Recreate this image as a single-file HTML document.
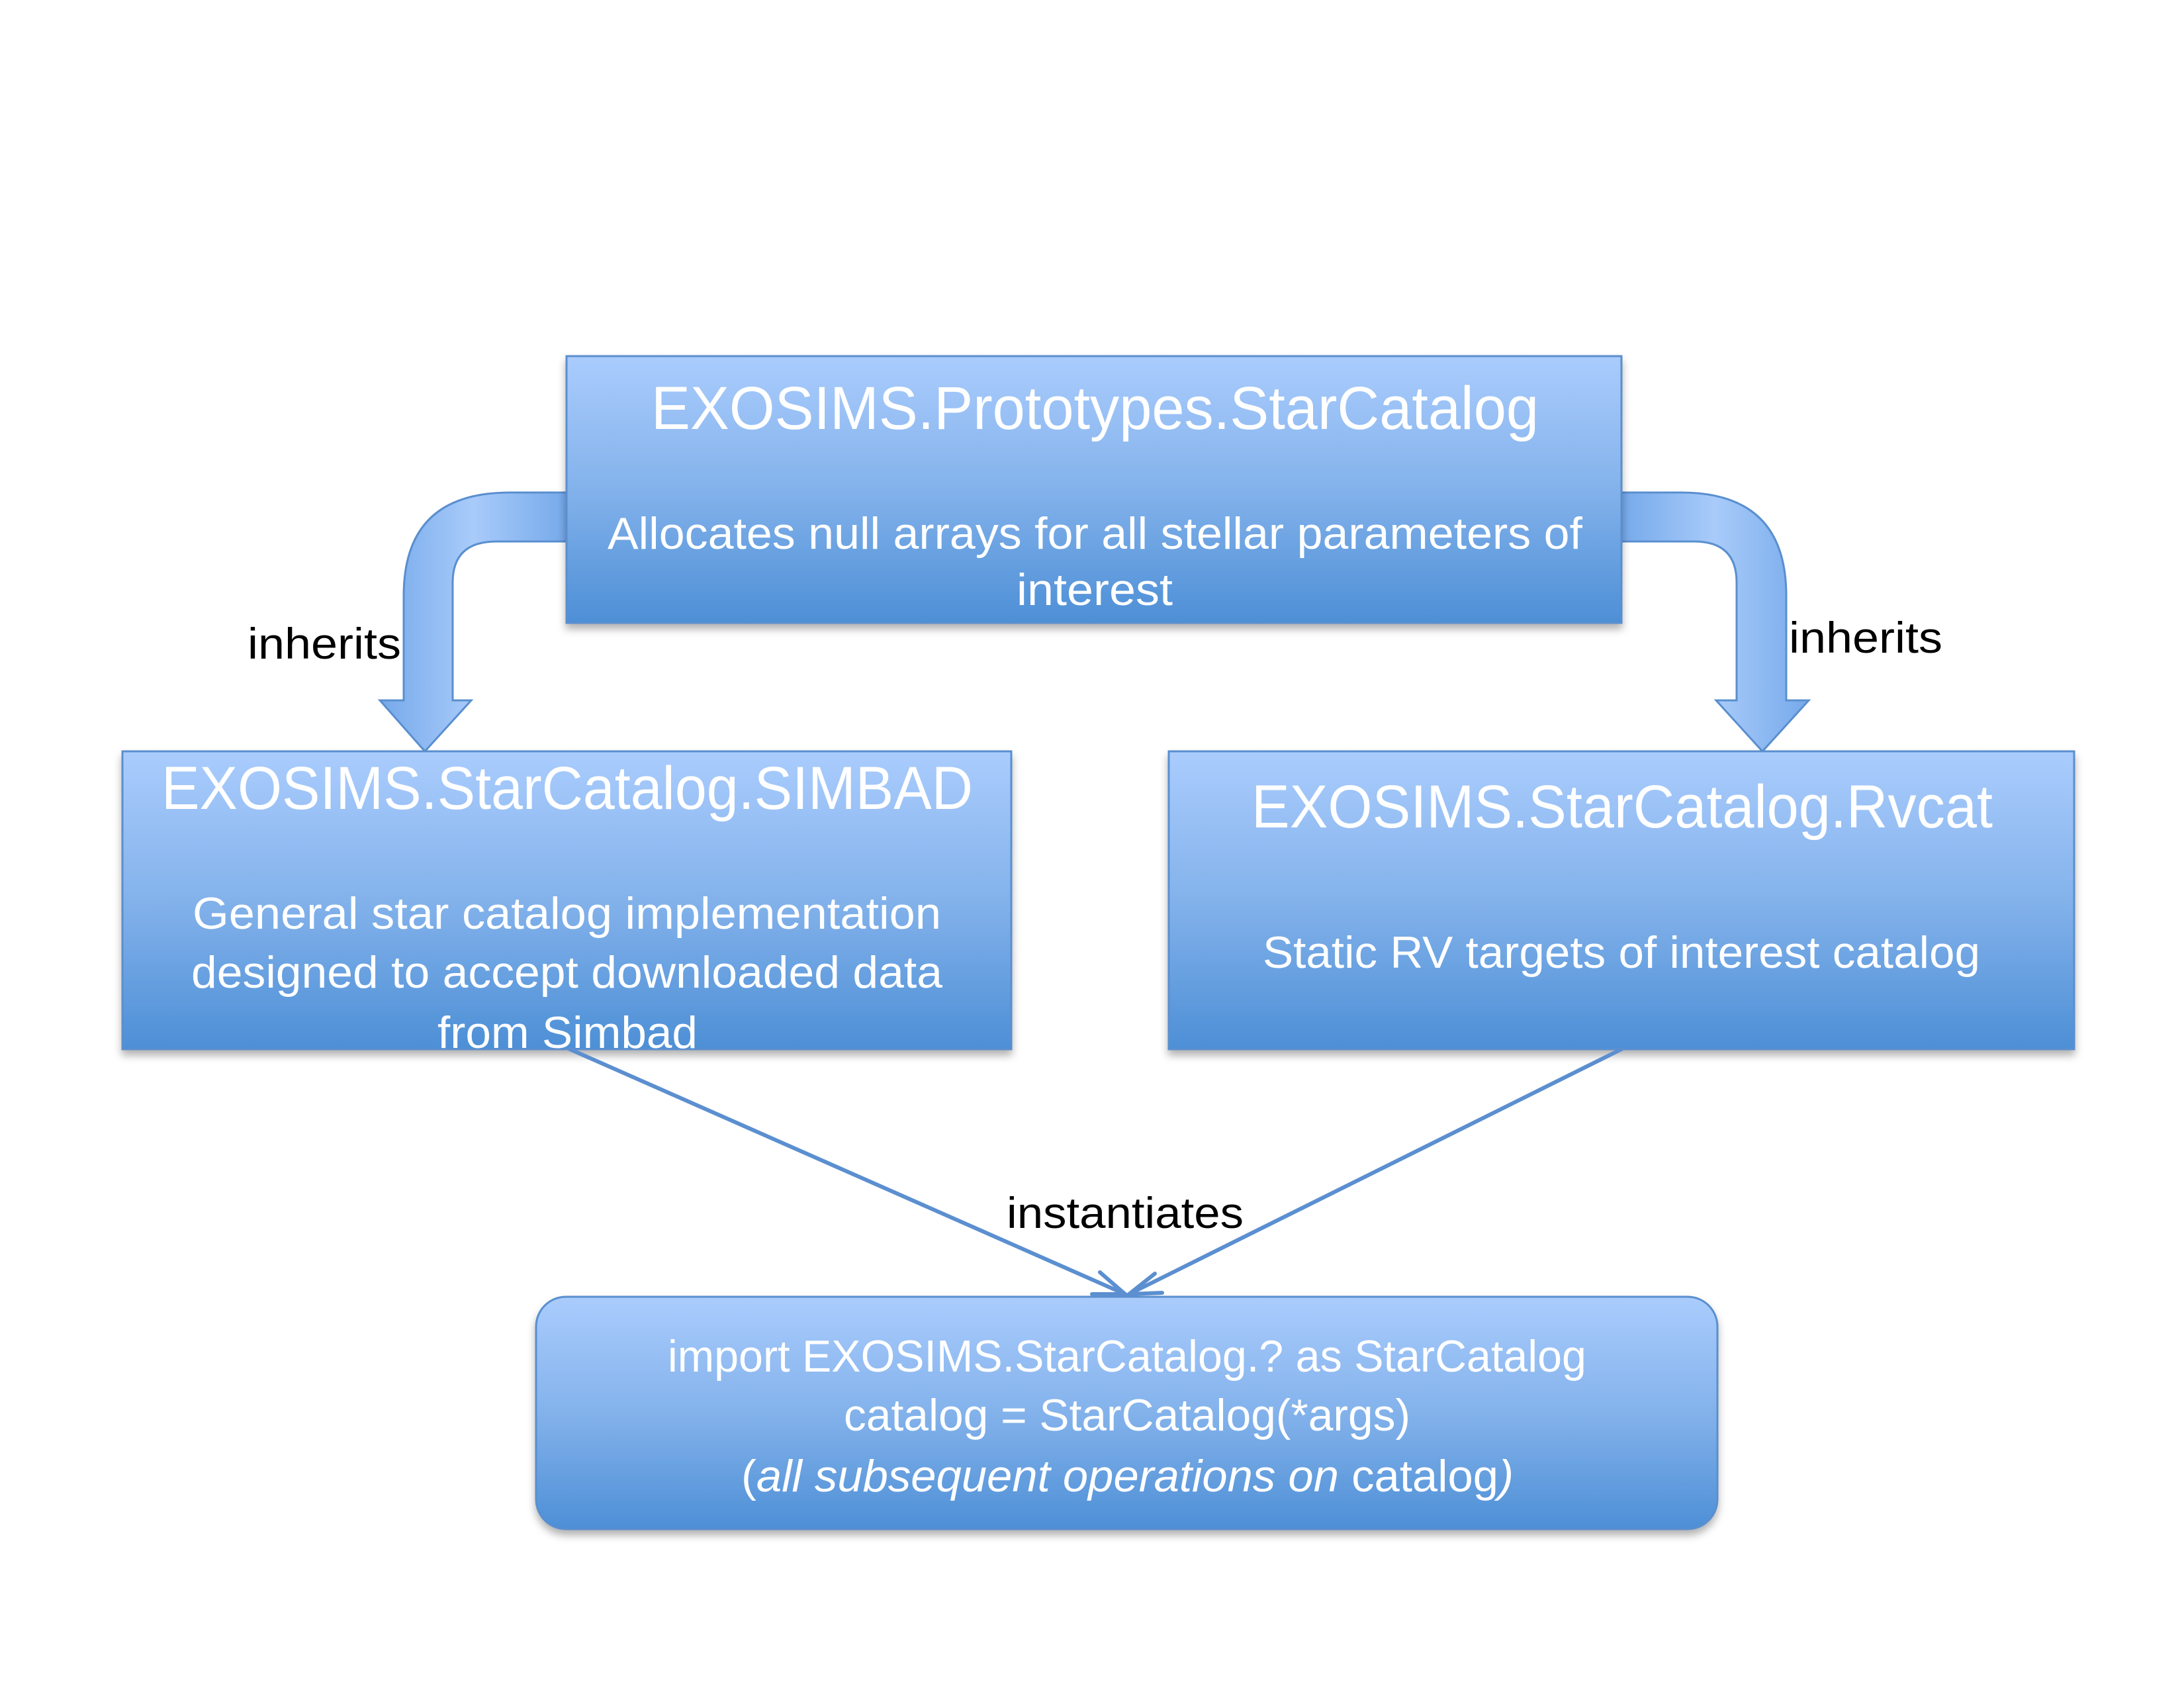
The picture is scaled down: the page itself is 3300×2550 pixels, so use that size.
<!DOCTYPE html>
<html><head><meta charset="utf-8"><style>
html,body{margin:0;padding:0;background:#fff;}
svg{display:block;}
text{font-family:"Liberation Sans",sans-serif;}
</style></head><body>
<svg width="3300" height="2550" viewBox="0 0 3300 2550" xmlns="http://www.w3.org/2000/svg">
<defs>
<linearGradient id="g" x1="0" y1="0" x2="0" y2="1">
<stop offset="0" stop-color="#aaccfd"/><stop offset="0.5" stop-color="#83b2eb"/><stop offset="1" stop-color="#4d8fd6"/>
</linearGradient>
<linearGradient id="ga" x1="0" y1="0" x2="1" y2="0">
<stop offset="0" stop-color="#76a9ea"/><stop offset="0.5" stop-color="#a8cbfa"/><stop offset="1" stop-color="#76a9ea"/>
</linearGradient>
<filter id="s" x="-5%" y="-5%" width="110%" height="115%"><feDropShadow dx="0" dy="8" stdDeviation="6" flood-color="#000" flood-opacity="0.3"/></filter>
</defs>
<!-- curved arrows -->
<path d="M856 744 L770 744 Q610 744 610 900 L610 1058 L574 1058 L642 1135 L712 1058 L684 1058 L684 880 Q684 818 750 818 L856 818 Z" fill="url(#ga)" stroke="#5a8fcf" stroke-width="3"/>
<path d="M2450 744 L2540 744 Q2699 744 2699 900 L2699 1058 L2733 1058 L2663 1135 L2593 1058 L2624 1058 L2624 880 Q2624 818 2560 818 L2450 818 Z" fill="url(#ga)" stroke="#5a8fcf" stroke-width="3"/>
<!-- boxes -->
<rect x="856" y="538" width="1594" height="403" fill="url(#g)" stroke="#5a8fcf" stroke-width="3" filter="url(#s)"/>
<rect x="185" y="1135" width="1343" height="450" fill="url(#g)" stroke="#5a8fcf" stroke-width="3" filter="url(#s)"/>
<rect x="1766" y="1135" width="1368" height="450" fill="url(#g)" stroke="#5a8fcf" stroke-width="3" filter="url(#s)"/>
<rect x="810" y="1959" width="1785" height="351" rx="45" fill="url(#g)" stroke="#5a8fcf" stroke-width="3" filter="url(#s)"/>
<!-- connectors -->
<g stroke="#5b8fd0" stroke-width="6" fill="none" stroke-linecap="round">
<line x1="861" y1="1585" x2="1700" y2="1955"/>
<line x1="2450" y1="1585" x2="1706" y2="1955"/>
<polyline points="1662,1922 1700,1955 1650,1955"/>
<polyline points="1745,1924 1706,1955 1756,1953"/>
</g>
<!-- text -->
<g fill="#fff" font-size="92">
<text x="984" y="648" textLength="1341" lengthAdjust="spacingAndGlyphs">EXOSIMS.Prototypes.StarCatalog</text>
<text x="244" y="1222" textLength="1226" lengthAdjust="spacingAndGlyphs">EXOSIMS.StarCatalog.SIMBAD</text>
<text x="1891" y="1250" textLength="1120" lengthAdjust="spacingAndGlyphs">EXOSIMS.StarCatalog.Rvcat</text>
</g>
<g fill="#fff" font-size="68">
<text x="918" y="829" textLength="1473" lengthAdjust="spacingAndGlyphs">Allocates null arrays for all stellar parameters of</text>
<text x="1536" y="914" textLength="236" lengthAdjust="spacingAndGlyphs">interest</text>
<text x="291" y="1403" textLength="1131" lengthAdjust="spacingAndGlyphs">General star catalog implementation</text>
<text x="289" y="1492" textLength="1135" lengthAdjust="spacingAndGlyphs">designed to accept downloaded data</text>
<text x="661" y="1583" textLength="393" lengthAdjust="spacingAndGlyphs">from Simbad</text>
<text x="1908" y="1462" textLength="1084" lengthAdjust="spacingAndGlyphs">Static RV targets of interest catalog</text>
<text x="1009" y="2072" textLength="1388" lengthAdjust="spacingAndGlyphs">import EXOSIMS.StarCatalog.? as StarCatalog</text>
<text x="1275" y="2161" textLength="856" lengthAdjust="spacingAndGlyphs">catalog = StarCatalog(*args)</text>
<text x="1120" y="2253" textLength="1167" lengthAdjust="spacingAndGlyphs">(<tspan font-style="italic">all subsequent operations on </tspan>catalog<tspan font-style="italic">)</tspan></text>
</g>
<g fill="#000" font-size="66">
<text x="374" y="995" textLength="232" lengthAdjust="spacingAndGlyphs">inherits</text>
<text x="2703" y="986" textLength="232" lengthAdjust="spacingAndGlyphs">inherits</text>
<text x="1521" y="1855" textLength="358" lengthAdjust="spacingAndGlyphs">instantiates</text>
</g>
</svg>
</body></html>
